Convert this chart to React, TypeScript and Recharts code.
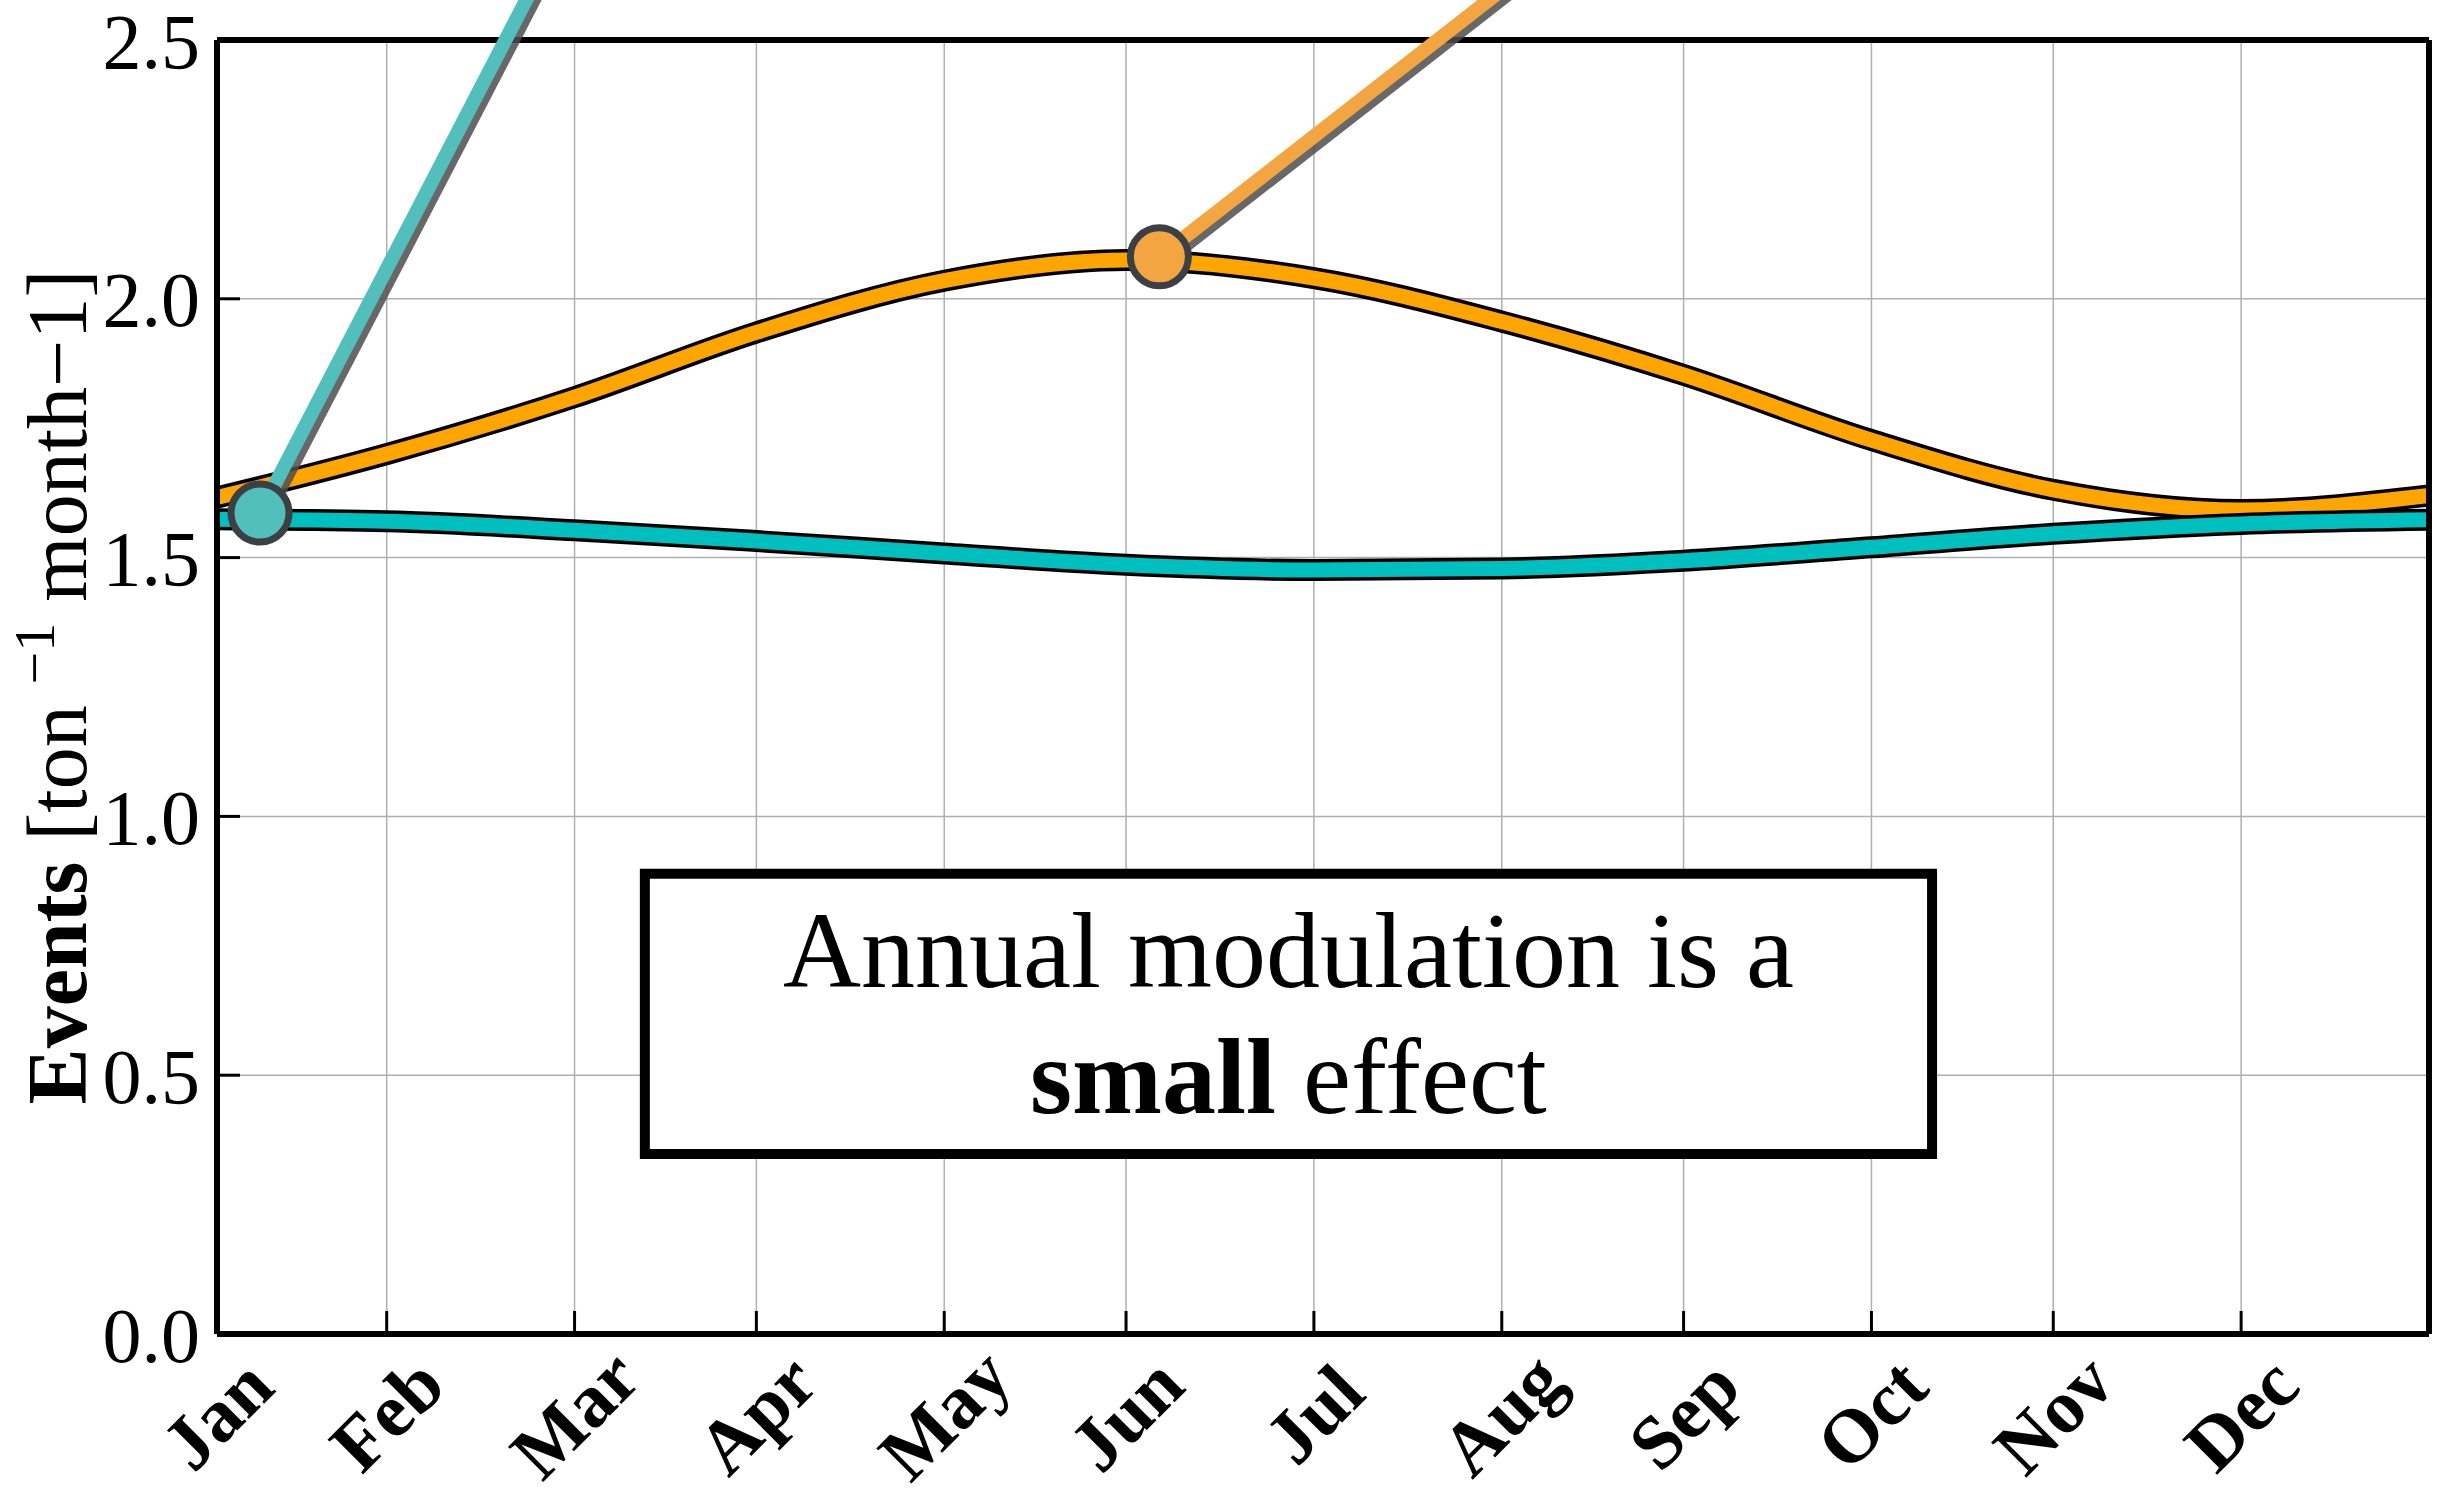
import React from 'react';
import { LineChart, Line, XAxis, YAxis, CartesianGrid, ReferenceLine, ReferenceDot, ReferenceArea } from 'recharts';

// day of year (axis starts at the first tick) and event rates
const days = [0, 28, 59, 89, 120, 150, 181, 212, 242, 273, 303, 334, 365];
const orangeRate = [1.616, 1.700, 1.810, 1.935, 2.035, 2.075, 2.040, 1.956, 1.853, 1.727, 1.631, 1.592, 1.620];
const tealRate = [1.574, 1.570, 1.553, 1.532, 1.508, 1.486, 1.476, 1.479, 1.494, 1.520, 1.546, 1.565, 1.573];

const monthTicks = [0, 28, 59, 89, 120, 150, 181, 212, 242, 273, 303, 334];
const monthLabels = ['Jan', 'Feb', 'Mar', 'Apr', 'May', 'Jun', 'Jul', 'Aug', 'Sep', 'Oct', 'Nov', 'Dec'];
const yTicks = [0, 0.5, 1.0, 1.5, 2.0, 2.5];

// annotation pointers: marker on the curve, then the end of the pointer line (off the top)
const tealPointer = [{ x: 7.1, y: 1.586 }, { x: 60, y: 2.78 }];
const orangePointer = [{ x: 155.5, y: 2.081 }, { x: 231, y: 2.77 }];

const FONT = "'Liberation Serif', 'Times New Roman', serif";

const chartData = days.map((d, i) => ({ day: d, orange: orangeRate[i], teal: tealRate[i] }));

const MonthTick = (props: any) => {
  const { x, y, payload } = props;
  const label = monthLabels[monthTicks.indexOf(payload.value)] ?? '';
  const cy = y + 80;
  return (
    <text
      x={x}
      y={cy}
      textAnchor="middle"
      dominantBaseline="central"
      transform={`rotate(-45 ${x} ${cy})`}
      fontFamily={FONT}
      fontWeight="bold"
      fontSize={76}
      fill="#000"
    >
      {label}
    </text>
  );
};

const pointerShape = (color: string) => (p: any) => (
  <g>
    <line x1={p.x1 + 5} y1={p.y1 + 5} x2={p.x2 + 5} y2={p.y2 + 5} stroke="#4d4d4d" strokeOpacity={0.85} strokeWidth={14} />
    <line x1={p.x1} y1={p.y1} x2={p.x2} y2={p.y2} stroke={color} strokeWidth={14} />
  </g>
);

const YLabel = (props: any) => {
  const vb = props.viewBox || { x: 0, y: 0, width: 0, height: 0 };
  const cx = 86;
  const cy = vb.y + vb.height / 2;
  return (
    <text x={cx} y={cy} transform={`rotate(-90 ${cx} ${cy})`} textAnchor="middle" fontFamily={FONT} fontSize={84} fill="#000">
      <tspan fontWeight="bold">Events</tspan>
      <tspan> [ton </tspan>
      <tspan dy={-32} fontSize={58}>−1</tspan>
      <tspan dy={32}> month−1]</tspan>
    </text>
  );
};

const BoxText = (props: any) => {
  const vb = props.viewBox || { x: 0, y: 0, width: 0, height: 0 };
  const cx = vb.x + vb.width / 2;
  const cy = vb.y + vb.height / 2;
  return (
    <text textAnchor="middle" fontFamily={FONT} fontSize={108} fill="#000">
      <tspan x={cx} y={cy - 27}>Annual modulation is a</tspan>
      <tspan x={cx} y={cy + 99}>
        <tspan fontWeight="bold">small</tspan> effect
      </tspan>
    </text>
  );
};

const axisLineStyle = { stroke: '#000', strokeWidth: 6 };
const tickLineStyle = { stroke: '#000', strokeWidth: 3 };

export default function App() {
  return (
    <div style={{ position: 'absolute', left: 0, top: 0, width: 2446, height: 1497, background: '#fff' }}>
      <LineChart width={2446} height={1497} data={chartData} margin={{ top: 39, right: 16, bottom: 63, left: 77 }}>
        <CartesianGrid stroke="#b0b0b0" strokeWidth={1.5} />
        <XAxis
          dataKey="day"
          type="number"
          domain={[0, 365]}
          ticks={monthTicks}
          interval={0}
          height={100}
          tickSize={-23}
          tickMargin={23}
          axisLine={axisLineStyle}
          tickLine={tickLineStyle}
          tick={<MonthTick />}
        />
        <XAxis
          xAxisId="top"
          orientation="top"
          dataKey="day"
          type="number"
          domain={[0, 365]}
          ticks={monthTicks}
          interval={0}
          height={1}
          tickSize={-23}
          tick={false}
          axisLine={axisLineStyle}
          tickLine={tickLineStyle}
        />
        <YAxis
          type="number"
          domain={[0, 2.5]}
          ticks={yTicks}
          interval={0}
          width={140}
          tickSize={-23}
          tickMargin={40}
          tickFormatter={(v: number) => v.toFixed(1)}
          axisLine={axisLineStyle}
          tickLine={tickLineStyle}
          tick={{ fontFamily: FONT, fontSize: 78, fill: '#000' }}
          label={{ content: <YLabel /> }}
        />
        <YAxis
          yAxisId="right"
          orientation="right"
          type="number"
          domain={[0, 2.5]}
          ticks={yTicks}
          interval={0}
          width={1}
          tickSize={-23}
          tick={false}
          axisLine={axisLineStyle}
          tickLine={tickLineStyle}
        />
        <Line type="monotone" dataKey="orange" stroke="#000" strokeWidth={22} dot={false} activeDot={false} isAnimationActive={false} />
        <Line type="monotone" dataKey="orange" stroke="#ffa500" strokeWidth={15} dot={false} activeDot={false} isAnimationActive={false} />
        <Line type="monotone" dataKey="teal" stroke="#000" strokeWidth={22} dot={false} activeDot={false} isAnimationActive={false} />
        <Line type="monotone" dataKey="teal" stroke="#00bfbf" strokeWidth={15} dot={false} activeDot={false} isAnimationActive={false} />
        <ReferenceArea
          x1={70.6}
          x2={283}
          y1={0.348}
          y2={0.889}
          fill="#fff"
          fillOpacity={1}
          stroke="#000"
          strokeWidth={10}
          label={{ content: <BoxText /> }}
        />
        <ReferenceLine segment={tealPointer} ifOverflow="visible" shape={pointerShape('#52bfbd')} zIndex={1500} />
        <ReferenceDot x={tealPointer[0].x} y={tealPointer[0].y} r={29} fill="#52bfbd" stroke="#3c3f43" strokeWidth={7} ifOverflow="visible" zIndex={1600} />
        <ReferenceLine segment={orangePointer} ifOverflow="visible" shape={pointerShape('#f2a541')} zIndex={1500} />
        <ReferenceDot x={orangePointer[0].x} y={orangePointer[0].y} r={29} fill="#f2a541" stroke="#3c3f43" strokeWidth={7} ifOverflow="visible" zIndex={1600} />
      </LineChart>
    </div>
  );
}
